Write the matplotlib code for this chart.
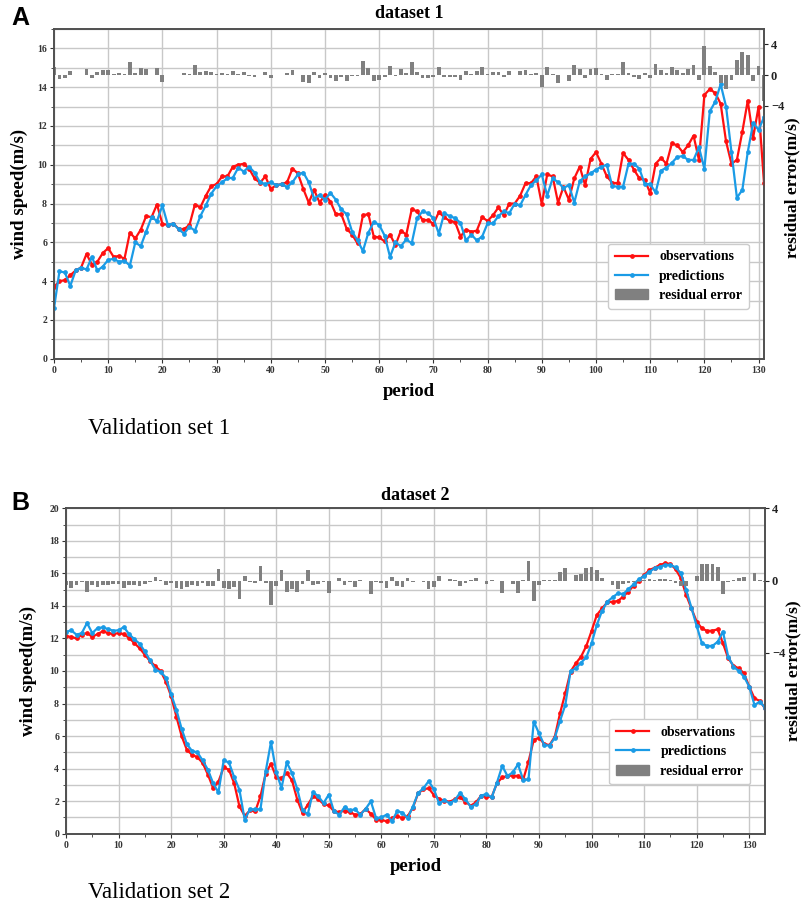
import numpy as np
import matplotlib
matplotlib.use("Agg")
import matplotlib.pyplot as plt
from matplotlib.lines import Line2D
from matplotlib.patches import Patch
from matplotlib.ticker import MultipleLocator, FixedLocator

plt.rcParams['font.family'] = ['Liberation Serif', 'DejaVu Serif']
plt.rcParams['font.weight'] = 'bold'

# ---------------- data: dataset 1 ----------------
period_1 = list(range(0, 132))
observations_1 = [
    3.7, 4.0, 4.05, 4.3, 4.55, 4.7, 5.4, 4.85, 5.0, 5.45,
    5.7, 5.25, 5.3, 5.15, 6.5, 6.2, 6.65, 7.35, 7.3, 7.95,
    6.95, 6.9, 6.97, 6.7, 6.68, 6.9, 7.95, 7.8, 8.4, 8.9,
    9.0, 9.4, 9.4, 9.9, 10.0, 10.05, 9.8, 9.3, 9.07, 9.4,
    8.75, 8.95, 9.0, 9.1, 9.8, 9.55, 8.75, 8.05, 8.7, 8.05,
    8.45, 8.1, 7.45, 7.45, 6.7, 6.4, 5.95, 7.4, 7.45, 6.3,
    6.25, 6.05, 6.4, 5.85, 6.6, 6.4, 7.7, 7.6, 7.15, 7.15,
    6.95, 7.55, 7.3, 7.1, 7.05, 6.3, 6.65, 6.55, 6.6, 7.3,
    7.1, 7.4, 7.8, 7.4, 8.0, 8.0, 8.4, 9.05, 9.05, 9.4,
    7.97, 9.5, 9.4, 8.05, 8.85, 8.2, 9.3, 9.9, 8.95, 10.3,
    10.65, 10.05, 9.4, 9.07, 9.05, 10.6, 10.25, 9.75, 9.3, 9.2,
    8.55, 10.05, 10.35, 10.05, 11.1, 11.0, 10.65, 11.0, 11.5, 10.25,
    13.6, 13.9, 13.7, 13.15, 11.2, 10.05, 10.25, 11.7, 13.3, 11.4,
    13.0, 9.05]
predictions_1 = [
    2.6, 4.5, 4.45, 3.75, 4.55, 4.7, 4.6, 5.25, 4.55, 4.75,
    5.1, 5.15, 5.0, 5.05, 4.8, 6.0, 5.8, 6.55, 7.3, 7.1,
    7.9, 6.9, 6.97, 6.67, 6.45, 6.8, 6.6, 7.35, 7.9, 8.5,
    8.9, 9.1, 9.3, 9.33, 9.85, 9.65, 9.9, 9.6, 9.1, 9.0,
    9.1, 8.95, 9.0, 8.85, 9.1, 9.5, 9.6, 9.1, 8.25, 8.45,
    8.2, 8.55, 8.2, 7.7, 7.45, 6.55, 6.1, 5.55, 6.5, 7.05,
    6.9, 6.35, 5.25, 6.0, 5.8, 6.15, 5.95, 7.25, 7.6, 7.5,
    7.25, 6.45, 7.5, 7.35, 7.25, 7.0, 6.1, 6.4, 6.1, 6.3,
    6.98, 6.98, 7.35, 7.6, 7.5, 8.0, 7.9, 8.45, 8.95, 9.2,
    9.5, 8.4, 9.3, 9.1, 8.8, 8.95, 8.05, 9.15, 9.4, 9.55,
    9.75, 9.9, 10.0, 8.9, 8.87, 8.87, 10.05, 10.05, 9.8, 9.0,
    9.0, 8.57, 9.7, 9.85, 10.1, 10.4, 10.45, 10.25, 10.25, 10.9,
    9.8, 12.75, 13.25, 14.15, 13.0, 10.65, 8.3, 8.7, 10.65, 12.15,
    11.8, 12.45]

# ---------------- data: dataset 2 ----------------
period_2 = list(range(0, 134))
observations_2 = [
    12.13, 12.1, 12.0, 12.23, 12.33, 12.1, 12.27, 12.44, 12.33, 12.27,
    12.33, 12.27, 12.03, 11.72, 11.4, 11.0, 10.6, 10.3, 10.0, 9.35,
    8.45, 7.2, 6.0, 5.15, 4.85, 4.7, 4.35, 3.63, 2.8, 3.2,
    4.08, 3.93, 3.1, 1.68, 1.1, 1.43, 1.37, 2.3, 3.7, 4.3,
    3.48, 3.4, 3.73, 3.28, 2.1, 1.27, 1.78, 2.3, 2.13, 1.82,
    1.74, 1.37, 1.33, 1.41, 1.33, 1.17, 1.2, 1.52, 1.23, 0.86,
    0.86, 0.76, 0.96, 1.07, 0.96, 1.07, 1.6, 2.48, 2.73, 2.79,
    2.38, 2.13, 2.03, 1.97, 2.11, 2.23, 1.97, 1.72, 1.93, 2.34,
    2.27, 2.27, 3.1, 3.46, 3.55, 3.57, 3.55, 3.34, 4.43, 5.76,
    5.9, 5.51, 5.45, 5.96, 7.4, 8.63, 9.96, 10.47, 10.88, 11.54,
    12.46, 13.44, 13.85, 14.22, 14.26, 14.3, 14.57, 14.88, 15.25, 15.55,
    15.9, 16.2, 16.35, 16.52, 16.62, 16.58, 16.25, 15.7, 14.67, 13.85,
    13.03, 12.62, 12.46, 12.48, 12.56, 11.7, 10.78, 10.33, 10.16, 9.86,
    9.04, 8.32, 8.16, 7.7]
predictions_2 = [
    12.4, 12.5, 12.23, 12.33, 12.95, 12.33, 12.64, 12.68, 12.58, 12.48,
    12.5, 12.7, 12.27, 11.95, 11.68, 11.2, 10.65, 10.08, 9.94, 9.6,
    8.57, 7.62, 6.45, 5.5, 5.08, 5.0, 4.5, 3.93, 3.1, 2.54,
    4.5, 4.38, 3.48, 2.7, 0.86, 1.5, 1.5, 1.5, 3.83, 5.63,
    3.8, 2.8, 4.38, 3.73, 2.75, 1.43, 1.2, 2.56, 2.3, 1.88,
    2.4, 1.37, 1.17, 1.64, 1.43, 1.5, 1.17, 1.52, 1.99, 0.96,
    1.0, 1.17, 0.76, 1.37, 1.3, 0.95, 1.66, 2.5, 2.79, 3.23,
    2.73, 1.86, 2.07, 1.86, 2.07, 2.52, 2.11, 1.66, 1.8, 2.34,
    2.44, 2.23, 3.14, 4.16, 3.55, 3.77, 4.26, 3.3, 3.34, 6.89,
    6.17, 5.45, 5.41, 5.9, 6.93, 7.91, 10.0, 10.16, 10.51, 10.84,
    11.7, 12.83, 13.7, 14.26, 14.53, 14.77, 14.73, 15.02, 15.33, 15.64,
    15.84, 16.1, 16.31, 16.41, 16.52, 16.52, 16.37, 16.0, 14.98, 13.89,
    12.77, 11.7, 11.54, 11.54, 11.8, 12.42, 10.88, 10.27, 10.0, 9.65,
    9.04, 7.91, 8.11, 7.75]

titles = ["dataset 1", "dataset 2"]
captions = ["Validation set 1", "Validation set 2"]
panel_letters = ["A", "B"]

RED = '#ff1010'
BLUE = '#1a9be6'
GREY = '#808080'

W, H = 803, 907
fig = plt.figure(figsize=(W / 100, H / 100), dpi=100)


def fx(px):
    return px / W


def fy(py):
    return 1 - py / H


def panel(rect_px, t, obs, pred, xlim, ylim, ylim_r, ymajor, title, title_y,
          letter, letter_y, caption, caption_y, leg_anchor):
    l, top, r, b = rect_px
    ax = fig.add_axes([fx(l), fy(b), fx(r - l), (b - top) / H])
    ax.plot(t, obs, color=RED, lw=1.6, marker='o', ms=2.4, label='observations', zorder=3)
    ax.plot(t, pred, color=BLUE, lw=1.6, marker='o', ms=2.4, label='predictions', zorder=3)
    ax.set_xlim(*xlim)
    ax.set_ylim(*ylim)
    ax.xaxis.set_major_locator(MultipleLocator(10))
    ax.xaxis.set_minor_locator(MultipleLocator(5))
    ax.yaxis.set_major_locator(MultipleLocator(ymajor))
    ax.yaxis.set_minor_locator(MultipleLocator(1))
    ax.grid(which='major', axis='x', color='#c8c8c8', lw=1.0)
    ax.grid(which='both', axis='y', color='#c8c8c8', lw=1.0)
    ax.set_axisbelow(True)
    ax.tick_params(which='major', labelsize=7, length=3, width=0.8, colors='#333333', pad=2)
    ax.tick_params(which='minor', length=2, width=0.6, colors='#333333')
    for s in ax.spines.values():
        s.set_color('#505050')
        s.set_linewidth(1.2)
    ax.set_xlabel('period', fontsize=13.5, fontweight='bold')
    ax.xaxis.set_label_coords(0.5, -0.075)
    ax.set_ylabel('wind speed(m/s)', fontsize=13.5, fontweight='bold')

    ax2 = ax.twinx()
    res = np.array(obs) - np.array(pred)
    ax2.bar(t, res, width=0.7, color=GREY, zorder=2, label='residual error')
    ax2.set_ylim(*ylim_r)
    ax2.yaxis.set_major_locator(FixedLocator([-4, 0, 4]))
    ax2.tick_params(labelsize=9, length=3, width=0.8, colors='#222222', pad=2)
    for s in ax2.spines.values():
        s.set_color('#505050')
        s.set_linewidth(1.2)
    ax2.set_ylabel('residual error(m/s)', fontsize=12.5, fontweight='bold')

    handles = [Line2D([], [], color=RED, lw=1.6, marker='o', ms=2.4),
               Line2D([], [], color=BLUE, lw=1.6, marker='o', ms=2.4),
               Patch(color=GREY)]
    leg = ax2.legend(handles, ['observations', 'predictions', 'residual error'],
                     loc='lower right', bbox_to_anchor=leg_anchor,
                     prop={'size': 10, 'weight': 'bold'}, frameon=True,
                     fancybox=True, edgecolor='#cccccc', framealpha=1.0,
                     handlelength=2.4, borderpad=0.5, labelspacing=0.45)
    leg.set_zorder(10)

    fig.text(fx((l + r) / 2), fy(title_y), title, ha='center', va='center',
             fontsize=13, fontweight='bold')
    fig.text(fx(11), fy(letter_y), letter, ha='left', va='center', fontsize=18,
             fontweight='bold', family='Liberation Sans')
    fig.text(fx(88), fy(caption_y), caption, ha='left', va='center', fontsize=16.5,
             fontweight='normal')
    return ax, ax2


axA, axA2 = panel((54, 29, 764, 358.7), period_1, observations_1, predictions_1,
                  (0, 131), (0, 17), (-37, 6), 2, titles[0], 13, panel_letters[0], 18,
                  captions[0], 428, (0.989, 0.13))
axA.yaxis.set_label_coords(-0.037, 0.5)
axA2.yaxis.set_label_coords(1.029, 0.52)

axB, axB2 = panel((66, 508.3, 765, 833.7), period_2, observations_2, predictions_2,
                  (0, 133), (0, 20), (-14, 4), 2, titles[1], 496, panel_letters[1], 503,
                  captions[1], 893, (0.989, 0.13))
axB.yaxis.set_label_coords(-0.042, 0.5)
axB2.yaxis.set_label_coords(1.029, 0.5)

fig.savefig('out.png', dpi=100)
